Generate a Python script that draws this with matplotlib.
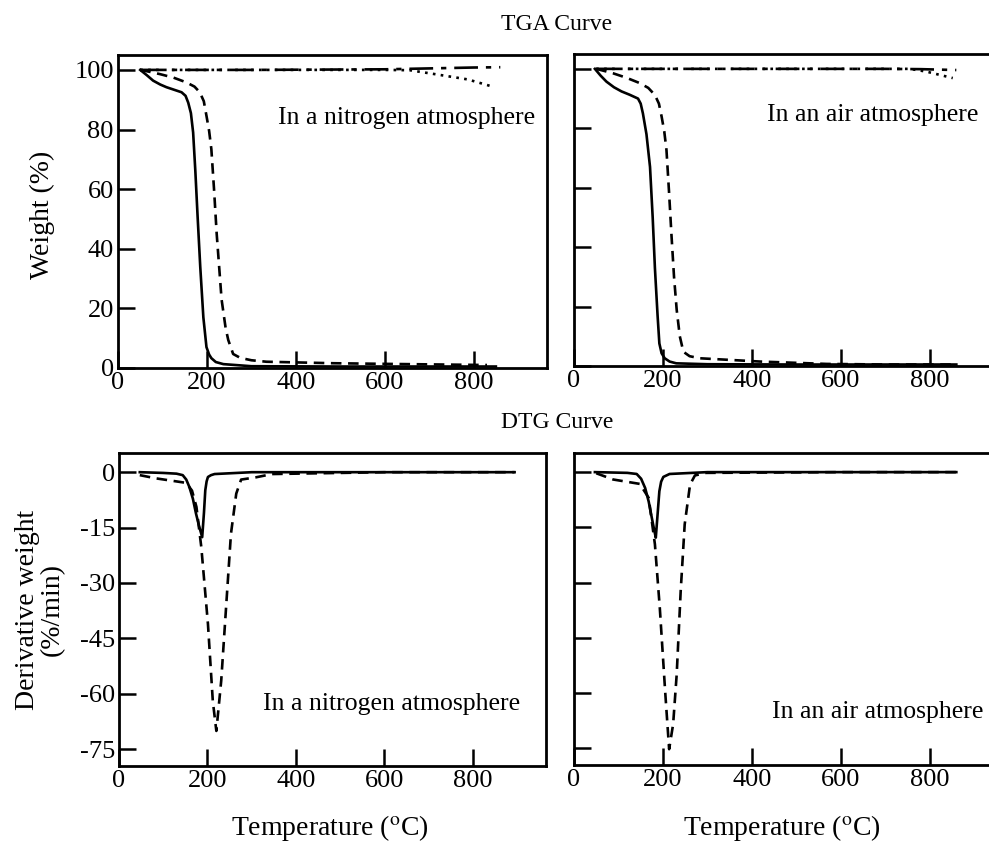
import matplotlib
matplotlib.use("Agg")
import matplotlib.pyplot as plt

plt.rcParams["font.family"] = ["Liberation Serif", "DejaVu Serif"]
plt.rcParams["mathtext.fontset"] = "stix"
plt.rcParams["axes.unicode_minus"] = False

# TGA, nitrogen
T_N2_SOLID = [50, 65, 79, 95, 109, 125, 143, 152, 158, 164, 169, 174, 179, 185, 192, 199, 205, 210, 220, 237, 300, 500, 850]
W_N2_SOLID = [100, 98.2, 96.4, 95.1, 94.2, 93.4, 92.5, 91.3, 89, 85.5, 79, 66, 51, 34, 17, 7, 4.5, 3.3, 2.0, 1.3, 0.6, 0.5, 0.5]
T_N2_DASH = [50, 70, 94, 125, 154, 172, 184, 193, 199, 205, 210, 216, 222, 233, 242, 248, 259, 275, 300, 334, 484, 650, 830]
W_N2_DASH = [100, 99.4, 98.6, 97.4, 95.8, 94.4, 92.5, 89.5, 84.6, 79.5, 73.4, 60, 45, 23, 13.5, 9.4, 4.7, 3.4, 2.6, 2.1, 1.6, 1.3, 1.0]
T_N2_DASHDOT = [50, 300, 600, 700, 800, 860]
W_N2_DASHDOT = [100, 100, 100.2, 100.5, 100.8, 100.9]
T_N2_DOT = [50, 300, 600, 656, 712, 787, 840]
W_N2_DOT = [100, 100, 100, 99.9, 98.6, 96.8, 94.5]

# TGA, air
T_AIR_SOLID = [47, 60, 73, 90, 107, 125, 144, 150, 155, 163, 171, 177, 182, 188, 192, 197, 204, 215, 230, 300, 500, 860]
W_AIR_SOLID = [100, 97.7, 95.7, 93.8, 92.4, 91.3, 90, 88.3, 85, 78, 67, 50, 33, 17, 7.6, 4.3, 2.6, 1.5, 0.9, 0.6, 0.5, 0.5]
T_AIR_DASH = [50, 68, 88, 118, 148, 167, 182, 191, 197, 203, 208, 214, 219, 225, 231, 238, 246, 260, 283, 418, 568, 700, 860]
W_AIR_DASH = [100, 99.3, 98.5, 97, 95.2, 93.6, 91.2, 88.3, 84, 79, 72.7, 58, 44.7, 30, 18.9, 10, 4.8, 3.3, 2.6, 1.5, 0.7, 0.5, 0.5]
T_AIR_DASHDOT = [50, 400, 700, 780, 860]
W_AIR_DASHDOT = [100, 100, 100, 99.9, 99.6]
T_AIR_DOT = [50, 400, 755, 792, 852]
W_AIR_DOT = [100, 100, 100, 99.1, 96.9]

# DTG, nitrogen
T_DN2_SOLID = [47, 100, 130, 144, 152, 159, 167, 174, 181, 188, 192, 195, 198, 201, 208, 216, 300, 600, 894]
D_DN2_SOLID = [0, -0.2, -0.4, -0.8, -2, -4, -7.2, -11.2, -14.6, -17.6, -11, -4.9, -2.5, -1.3, -0.8, -0.5, 0, 0, 0]
T_DN2_DASH = [47, 85, 130, 152, 165, 175, 186, 201, 212, 220, 231, 242, 253, 265, 276, 309, 346, 600, 894]
D_DN2_DASH = [-0.8, -1.7, -2.5, -2.9, -5, -9.4, -20.3, -41.1, -62, -70.1, -56.5, -36.6, -16.7, -5.8, -2.0, -1.4, -0.5, 0, 0]

# DTG, air
T_DAIR_SOLID = [47, 120, 141, 151, 160, 168, 175, 180, 184, 188, 192, 196, 201, 215, 300, 600, 860]
D_DAIR_SOLID = [0, -0.2, -0.5, -1.8, -4.3, -8, -12.4, -15.5, -17.8, -11.5, -5.2, -2.6, -1.3, -0.5, 0, 0, 0]
T_DAIR_DASH = [50, 88, 148, 168, 182, 193, 205, 214, 223, 231, 240, 249, 261, 272, 297, 600, 860]
D_DAIR_DASH = [-0.3, -2, -3.2, -7, -19.6, -36.9, -59.5, -75.3, -68.5, -55, -32.3, -14.2, -3.4, -0.9, -0.2, 0, 0]

X_TICKS = [0, 200, 400, 600, 800]
TGA_TICKS = [0, 20, 40, 60, 80, 100]
DTG_TICKS = [0, -15, -30, -45, -60, -75]

LW = 1.9
DASH = (0, (4, 2.5))
DASHDOT = (0, (9, 3, 2, 3))
DOT = (0, (1, 2))

fig = plt.figure(figsize=(9.89, 8.42), dpi=100)
W, H = 989, 842


def box(left, top, right, bottom):
    return [left / W, 1 - bottom / H, (right - left) / W, (bottom - top) / H]


ax_tn = fig.add_axes(box(118, 55, 547, 368))
ax_ta = fig.add_axes(box(574, 54, 1003, 366))
ax_dn = fig.add_axes(box(119, 453, 546, 766))
ax_da = fig.add_axes(box(574, 453, 1003, 765))


def style(ax, yticks, ylim, show_y):
    ax.set_xlim(0, 965)
    ax.set_ylim(*ylim)
    ax.set_xticks(X_TICKS)
    ax.set_yticks(yticks)
    for s in ax.spines.values():
        s.set_linewidth(2.0)
    ax.tick_params(direction="in", length=12, width=1.8, labelsize=19, pad=3)
    if not show_y:
        ax.set_yticklabels([])


ax_tn.plot(T_N2_DASHDOT, W_N2_DASHDOT, color="black", lw=LW, ls=DASHDOT)
ax_tn.plot(T_N2_DOT, W_N2_DOT, color="black", lw=LW, ls=DOT)
ax_tn.plot(T_N2_DASH, W_N2_DASH, color="black", lw=LW, ls=DASH)
ax_tn.plot(T_N2_SOLID, W_N2_SOLID, color="black", lw=LW)
style(ax_tn, TGA_TICKS, (0, 105), True)
ax_tn.text(649, 84, "In a nitrogen atmosphere", fontsize=18.5, ha="center", va="center")

ax_ta.plot(T_AIR_DASHDOT, W_AIR_DASHDOT, color="black", lw=LW, ls=DASHDOT)
ax_ta.plot(T_AIR_DOT, W_AIR_DOT, color="black", lw=LW, ls=DOT)
ax_ta.plot(T_AIR_DASH, W_AIR_DASH, color="black", lw=LW, ls=DASH)
ax_ta.plot(T_AIR_SOLID, W_AIR_SOLID, color="black", lw=LW)
style(ax_ta, TGA_TICKS, (0, 105), False)
ax_ta.text(672, 84.5, "In an air atmosphere", fontsize=18.5, ha="center", va="center")

ax_dn.plot(T_DN2_DASH, D_DN2_DASH, color="black", lw=LW, ls=DASH)
ax_dn.plot(T_DN2_SOLID, D_DN2_SOLID, color="black", lw=LW)
style(ax_dn, DTG_TICKS, (-79.6, 5.2), True)
ax_dn.text(616, -62.8, "In a nitrogen atmosphere", fontsize=18.5, ha="center", va="center")

ax_da.plot(T_DAIR_DASH, D_DAIR_DASH, color="black", lw=LW, ls=DASH)
ax_da.plot(T_DAIR_SOLID, D_DAIR_SOLID, color="black", lw=LW)
style(ax_da, DTG_TICKS, (-79.6, 5.2), False)
ax_da.text(683, -65.2, "In an air atmosphere", fontsize=18.5, ha="center", va="center")

fig.text(557 / W, 1 - 24 / H, "TGA Curve", fontsize=17, ha="center", va="center")
fig.text(557 / W, 1 - 422 / H, "DTG Curve", fontsize=17, ha="center", va="center")
fig.text(42 / W, 1 - 215 / H, "Weight (%)", fontsize=20, rotation=90, ha="center", va="center")
fig.text(40 / W, 1 - 610 / H, "Derivative weight\n(%/min)", fontsize=20, rotation=90,
         ha="center", va="center", linespacing=1.0)
fig.text(330 / W, 1 - 828 / H, "Temperature ($^{\\mathrm{o}}$C)", fontsize=20, ha="center", va="center")
fig.text(782 / W, 1 - 828 / H, "Temperature ($^{\\mathrm{o}}$C)", fontsize=20, ha="center", va="center")

fig.savefig("out.png", dpi=100)
